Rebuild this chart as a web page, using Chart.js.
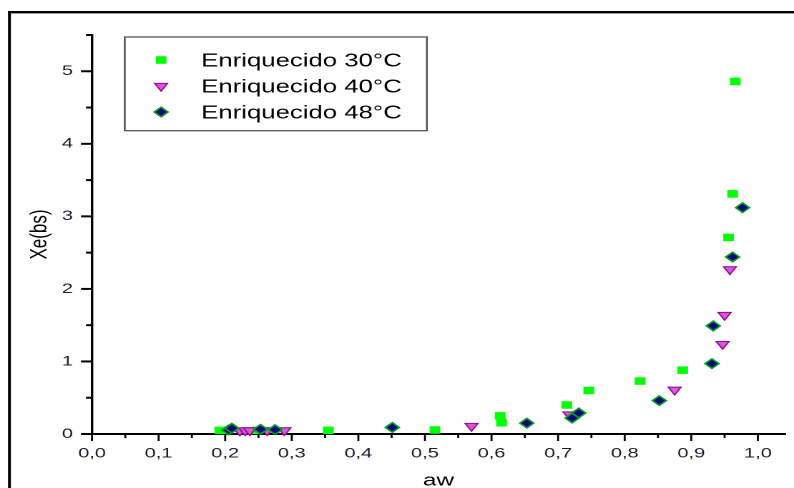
<!DOCTYPE html>
<html><head><meta charset="utf-8">
<script src="https://cdn.jsdelivr.net/npm/chart.js@4/dist/chart.umd.min.js"></script>
<style>
html,body{margin:0;padding:0;background:#fff;overflow:hidden;width:794px;height:488px;}
#wrap{position:absolute;left:0;top:0;width:555px;height:488px;transform:scaleX(1.4306);transform-origin:0 0;}
</style></head><body>
<div id="wrap"><canvas id="c"></canvas></div>
<script>
// Series names
const seriesNames = ['Enriquecido 30°C', 'Enriquecido 40°C', 'Enriquecido 48°C'];
// Axis titles
const xTitle = 'aw';
const yTitle = 'Xe(bs)';

// Enriquecido 30°C
const aw30 = [0.192, 0.248, 0.355, 0.515, 0.613, 0.615, 0.713, 0.746, 0.823, 0.887, 0.956, 0.962, 0.966];
const xe30 = [0.05, 0.05, 0.05, 0.055, 0.25, 0.155, 0.40, 0.60, 0.73, 0.88, 2.71, 3.31, 4.86];
// Enriquecido 40°C
const aw40 = [0.222, 0.230, 0.237, 0.263, 0.289, 0.570, 0.717, 0.875, 0.947, 0.950, 0.958];
const xe40 = [0.045, 0.05, 0.05, 0.05, 0.05, 0.11, 0.27, 0.61, 1.24, 1.64, 2.27];
// Enriquecido 48°C
const aw48 = [0.205, 0.210, 0.253, 0.275, 0.451, 0.653, 0.721, 0.731, 0.852, 0.931, 0.933, 0.962, 0.977];
const xe48 = [0.055, 0.08, 0.065, 0.06, 0.09, 0.15, 0.22, 0.29, 0.46, 0.97, 1.49, 2.44, 3.12];

const toPts = (xs, ys) => xs.map((v, i) => ({x: v, y: ys[i]}));
const fmt = v => v.toFixed(1).replace('.', ',');

const framePlugin = {
  id: 'frame',
  beforeDraw(chart) {
    const ctx = chart.ctx;
    ctx.save();
    ctx.fillStyle = '#000';
    ctx.fillRect(5.6, 11, 560, 2.4);
    ctx.fillRect(5.6, 11, 2.0, 480);
    ctx.restore();
  }
};

const tickPlugin = {
  id: 'ticksMarks',
  afterDraw(chart) {
    const {ctx, scales: {x, y}, chartArea} = chart;
    ctx.save();
    ctx.strokeStyle = '#000';
    ctx.lineWidth = 2;
    const ax = chartArea.left;
    for (let i = 0; i <= 11; i++) {
      const v = i * 0.5;
      const py = y.getPixelForValue(v);
      const major = i % 2 === 0;
      ctx.beginPath();
      ctx.moveTo(ax, py);
      ctx.lineTo(ax - (major ? 7.7 : 4.2), py);
      ctx.stroke();
    }
    ctx.lineWidth = 1.4;
    const ay = chartArea.bottom;
    for (let i = 0; i <= 20; i++) {
      const v = i * 0.05;
      const px = x.getPixelForValue(v);
      const major = i % 2 === 0;
      ctx.beginPath();
      ctx.moveTo(px, ay);
      ctx.lineTo(px, ay + (major ? 7 : 4));
      ctx.stroke();
    }
    ctx.restore();
  }
};

const legendPlugin = {
  id: 'legendBox',
  afterDraw(chart) {
    const ctx = chart.ctx;
    ctx.save();
    ctx.strokeStyle = '#555';
    ctx.lineWidth = 1.3;
    ctx.strokeRect(87.2, 37, 211.2, 93.7);
    ctx.font = '18px "Liberation Sans", Arial, sans-serif';
    ctx.textBaseline = 'alphabetic';
    ctx.textAlign = 'left';
    chart.data.datasets.forEach((ds, i) => {
      const cy = 60 + 26 * i;
      ctx.fillStyle = ds.backgroundColor;
      ctx.strokeStyle = ds.borderColor;
      ctx.lineWidth = ds.borderWidth;
      Chart.helpers.drawPoint(ctx, {pointStyle: ds.pointStyle, rotation: ds.rotation || 0, radius: ds.pointRadius, borderWidth: ds.borderWidth}, 112.6, cy);
      ctx.fillStyle = '#000';
      ctx.fillText(ds.label, 140.6, cy + 6.3);
    });
    ctx.restore();
  }
};

new Chart(document.getElementById('c'), {
  type: 'scatter',
  data: {
    datasets: [
      {label: seriesNames[0], data: toPts(aw30, xe30), pointStyle: 'rect', pointRadius: 5.3,
       backgroundColor: '#00ff00', borderColor: '#00ff00', borderWidth: 0, order: 3, clip: false},
      {label: seriesNames[1], data: toPts(aw40, xe40), pointStyle: 'triangle', rotation: 180, pointRadius: 5.2,
       backgroundColor: '#d65ad6', borderColor: '#960096', borderWidth: 1, order: 2, clip: false},
      {label: seriesNames[2], data: toPts(aw48, xe48), pointStyle: 'rectRot', pointRadius: 4.8,
       backgroundColor: '#000080', borderColor: '#00a020', borderWidth: 1.4, order: 1, clip: false}
    ]
  },
  options: {
    responsive: true,
    maintainAspectRatio: false,
    devicePixelRatio: 2,
    animation: false,
    layout: {padding: {left: 0, right: 0, top: 35, bottom: 0}},
    plugins: {legend: {display: false}, tooltip: {enabled: false}},
    scales: {
      x: {
        type: 'linear', min: 0, max: 1.0409,
        afterFit(s) { s.height = 54; },
        grid: {display: false, drawTicks: false},
        border: {display: true, color: '#000', width: 2},
        ticks: {stepSize: 0.1, includeBounds: false, autoSkip: false, maxRotation: 0, padding: 11,
                color: '#1c1c2c', font: {family: '"Liberation Sans", Arial, sans-serif', size: 14},
                callback: v => fmt(v)},
        title: {display: true, text: xTitle, color: '#000',
                font: {family: '"Liberation Sans", Arial, sans-serif', size: 17, lineHeight: 1.2},
                padding: {top: 0, bottom: -3}}
      },
      y: {
        type: 'linear', min: 0, max: 5.5,
        afterFit(s) { s.width = 64.3; },
        grid: {display: false, drawTicks: false},
        border: {display: true, color: '#000', width: 1.7},
        ticks: {stepSize: 1, includeBounds: false, padding: 13.3,
                color: '#1c1c2c', font: {family: '"Liberation Sans", Arial, sans-serif', size: 14},
                callback: v => String(v)},
        title: {display: true, text: yTitle, color: '#000',
                font: {family: '"Liberation Sans", Arial, sans-serif', size: 17, lineHeight: 1.2},
                padding: {top: 17.8, bottom: 0}}
      }
    }
  },
  plugins: [framePlugin, tickPlugin, legendPlugin]
});
</script>
</body></html>
